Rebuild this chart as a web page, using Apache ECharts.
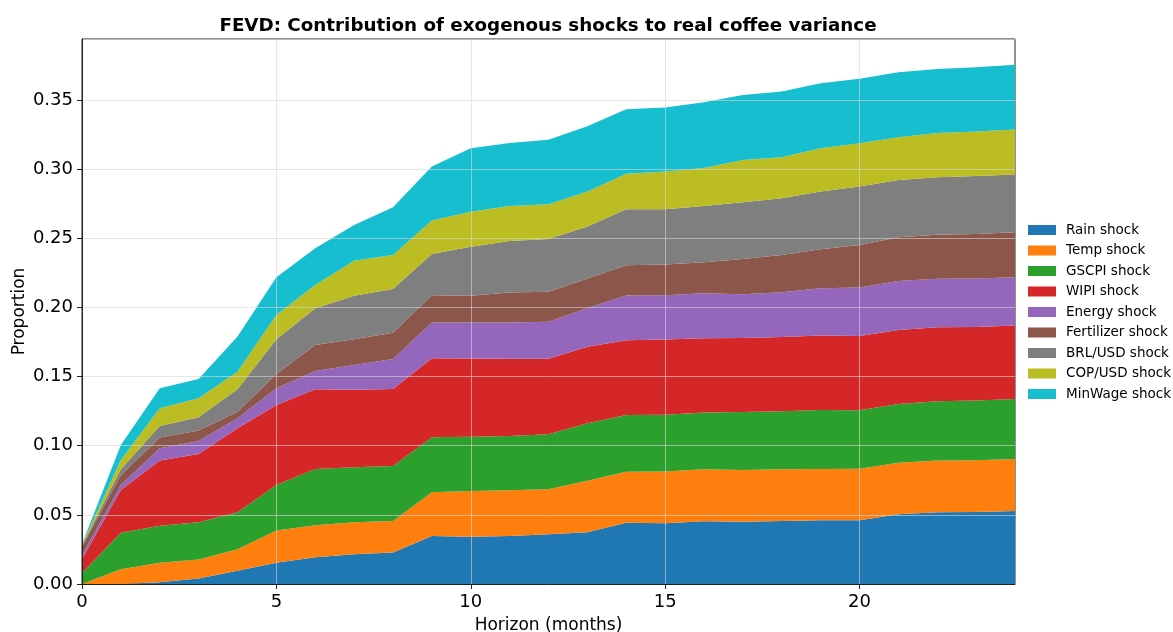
<!DOCTYPE html>
<html>
<head>
<meta charset="utf-8">
<script src="https://cdn.jsdelivr.net/npm/echarts@6/dist/echarts.min.js"></script>
<style>
  html, body { margin: 0; padding: 0; background: #fff; }
  #chart { width: 1173px; height: 632px; }
</style>
</head>
<body>
<div id="chart"></div>
<script>
// Forecast horizons (months)
const horizons = [0,1,2,3,4,5,6,7,8,9,10,11,12,13,14,15,16,17,18,19,20,21,22,23,24];

// Share of real coffee price forecast-error variance explained by each shock
const rainShock       = [0, 0, 0.0012, 0.004, 0.0096, 0.0154, 0.0193, 0.0215, 0.0227, 0.0347, 0.0342, 0.0347, 0.0359, 0.0374, 0.0443, 0.0439, 0.0453, 0.045, 0.0455, 0.046, 0.046, 0.0504, 0.0518, 0.052, 0.0528];
const tempShock       = [0, 0.0106, 0.0142, 0.0138, 0.0155, 0.0232, 0.0231, 0.0231, 0.0229, 0.0316, 0.033, 0.033, 0.0326, 0.0373, 0.0369, 0.0375, 0.0376, 0.0374, 0.0374, 0.0372, 0.0374, 0.0373, 0.0374, 0.0374, 0.0376];
const gscpiShock      = [0.008, 0.0265, 0.0268, 0.0268, 0.0267, 0.033, 0.0408, 0.0398, 0.0397, 0.0398, 0.0393, 0.0393, 0.0397, 0.0415, 0.041, 0.041, 0.041, 0.042, 0.042, 0.0426, 0.0422, 0.0425, 0.0429, 0.0432, 0.0434];
const wipiShock       = [0.010, 0.0309, 0.047, 0.0494, 0.0608, 0.0578, 0.0576, 0.0561, 0.0557, 0.0571, 0.0565, 0.0558, 0.0546, 0.0554, 0.054, 0.0543, 0.0538, 0.0535, 0.0537, 0.0538, 0.0536, 0.0535, 0.0535, 0.0532, 0.053];
const energyShock     = [0.003, 0.0036, 0.0089, 0.0094, 0.0072, 0.0121, 0.0132, 0.0179, 0.0217, 0.0258, 0.026, 0.0262, 0.0267, 0.0277, 0.0323, 0.032, 0.0325, 0.0316, 0.0323, 0.0342, 0.0351, 0.0354, 0.035, 0.035, 0.035];
const fertilizerShock = [0.006, 0.0072, 0.0079, 0.0075, 0.0048, 0.0104, 0.0188, 0.0185, 0.019, 0.0198, 0.0193, 0.0217, 0.0217, 0.0215, 0.0219, 0.0222, 0.0224, 0.0255, 0.027, 0.0282, 0.0308, 0.0316, 0.0318, 0.0323, 0.0325];
const brlUsdShock     = [0.001, 0.0041, 0.0083, 0.0096, 0.0162, 0.025, 0.0265, 0.0314, 0.0316, 0.0298, 0.0356, 0.0373, 0.0383, 0.0376, 0.0405, 0.04, 0.0407, 0.041, 0.041, 0.0417, 0.0422, 0.0414, 0.0417, 0.0419, 0.0417];
const copUsdShock     = [0.0005, 0.0068, 0.0127, 0.0138, 0.0127, 0.0176, 0.0169, 0.0253, 0.0246, 0.0241, 0.0253, 0.0253, 0.025, 0.0253, 0.0256, 0.0273, 0.0275, 0.0306, 0.0296, 0.0313, 0.0314, 0.0309, 0.032, 0.0321, 0.0325];
const minWageShock    = [0.0005, 0.0108, 0.0145, 0.0139, 0.0254, 0.0273, 0.0265, 0.026, 0.0345, 0.0391, 0.0458, 0.0456, 0.0466, 0.0473, 0.0468, 0.0462, 0.0475, 0.047, 0.0475, 0.0471, 0.0465, 0.047, 0.0463, 0.0465, 0.0468];

const seriesNames = ['Rain shock', 'Temp shock', 'GSCPI shock', 'WIPI shock', 'Energy shock',
                     'Fertilizer shock', 'BRL/USD shock', 'COP/USD shock', 'MinWage shock'];
const seriesData = [rainShock, tempShock, gscpiShock, wipiShock, energyShock,
                    fertilizerShock, brlUsdShock, copUsdShock, minWageShock];
const palette = ['#1f77b4', '#ff7f0e', '#2ca02c', '#d62728', '#9467bd',
                 '#8c564b', '#7f7f7f', '#bcbd22', '#17becf'];

const yTicks = [0, 0.05, 0.10, 0.15, 0.20, 0.25, 0.30, 0.35];
const xTicks = [0, 5, 10, 15, 20];

const FONT = 'DejaVu Sans';

const chart = echarts.init(document.getElementById('chart'), null, { renderer: 'canvas' });

const onXTick = idx => xTicks.includes(horizons[idx]);
const gridLineStyle = { color: 'rgba(215,215,215,0.6)', width: 1 };

chart.setOption({
  animation: false,
  backgroundColor: '#ffffff',
  color: palette,
  textStyle: { fontFamily: FONT },
  title: {
    text: 'FEVD: Contribution of exogenous shocks to real coffee variance',
    left: 543, top: 12, textAlign: 'center',
    textStyle: { fontFamily: FONT, fontSize: 18.3, fontWeight: 'bold', color: '#000' }
  },
  legend: {
    orient: 'vertical',
    left: 1028, top: 223, padding: 0,
    itemWidth: 28, itemHeight: 10, itemGap: 6.5,
    icon: 'rect',
    textStyle: { fontFamily: FONT, fontSize: 13.5, color: '#000', lineHeight: 14,
                 padding: [0, 0, 0, 5] },
    data: seriesNames
  },
  grid: {
    left: 82, right: 158, top: 39, bottom: 48,
    outerBoundsMode: 'none',
    show: true, borderColor: '#222', borderWidth: 1, backgroundColor: 'transparent',
    containLabel: false
  },
  xAxis: {
    type: 'category', data: horizons, boundaryGap: false, z: 5,
    name: 'Horizon (months)', nameLocation: 'middle', nameGap: 33, nameMoveOverlap: false,
    nameTextStyle: { fontFamily: FONT, fontSize: 17, color: '#000' },
    axisLine: { show: true, onZero: false, lineStyle: { color: '#222', width: 1 } },
    axisTick: { show: true, inside: false, length: 5, alignWithLabel: true,
                interval: onXTick, lineStyle: { color: '#222' } },
    axisLabel: { fontFamily: FONT, fontSize: 18, color: '#000', margin: 9,
                 interval: onXTick },
    splitLine: { show: true, interval: onXTick, lineStyle: gridLineStyle }
  },
  yAxis: {
    type: 'value', min: 0, max: 0.394, interval: 0.05, z: 5,
    name: 'Proportion', nameLocation: 'middle', nameGap: 54, nameRotate: 90, nameMoveOverlap: false,
    nameTextStyle: { fontFamily: FONT, fontSize: 17, color: '#000' },
    axisLine: { show: true, onZero: false, lineStyle: { color: '#222', width: 1 } },
    axisTick: { show: true, inside: false, length: 5, lineStyle: { color: '#222' } },
    axisLabel: { fontFamily: FONT, fontSize: 18, color: '#000', margin: 9,
                 showMaxLabel: false,
                 formatter: v => yTicks.some(t => Math.abs(t - v) < 1e-9) ? v.toFixed(2) : '' },
    splitLine: { show: true, lineStyle: gridLineStyle }
  },
  series: seriesNames.map((name, i) => ({
    name,
    type: 'line',
    stack: 'fevd',
    symbol: 'none',
    smooth: false,
    z: 2,
    lineStyle: { width: 0 },
    areaStyle: { color: palette[i], opacity: 1 },
    itemStyle: { color: palette[i] },
    data: seriesData[i]
  }))
});
</script>
</body>
</html>
